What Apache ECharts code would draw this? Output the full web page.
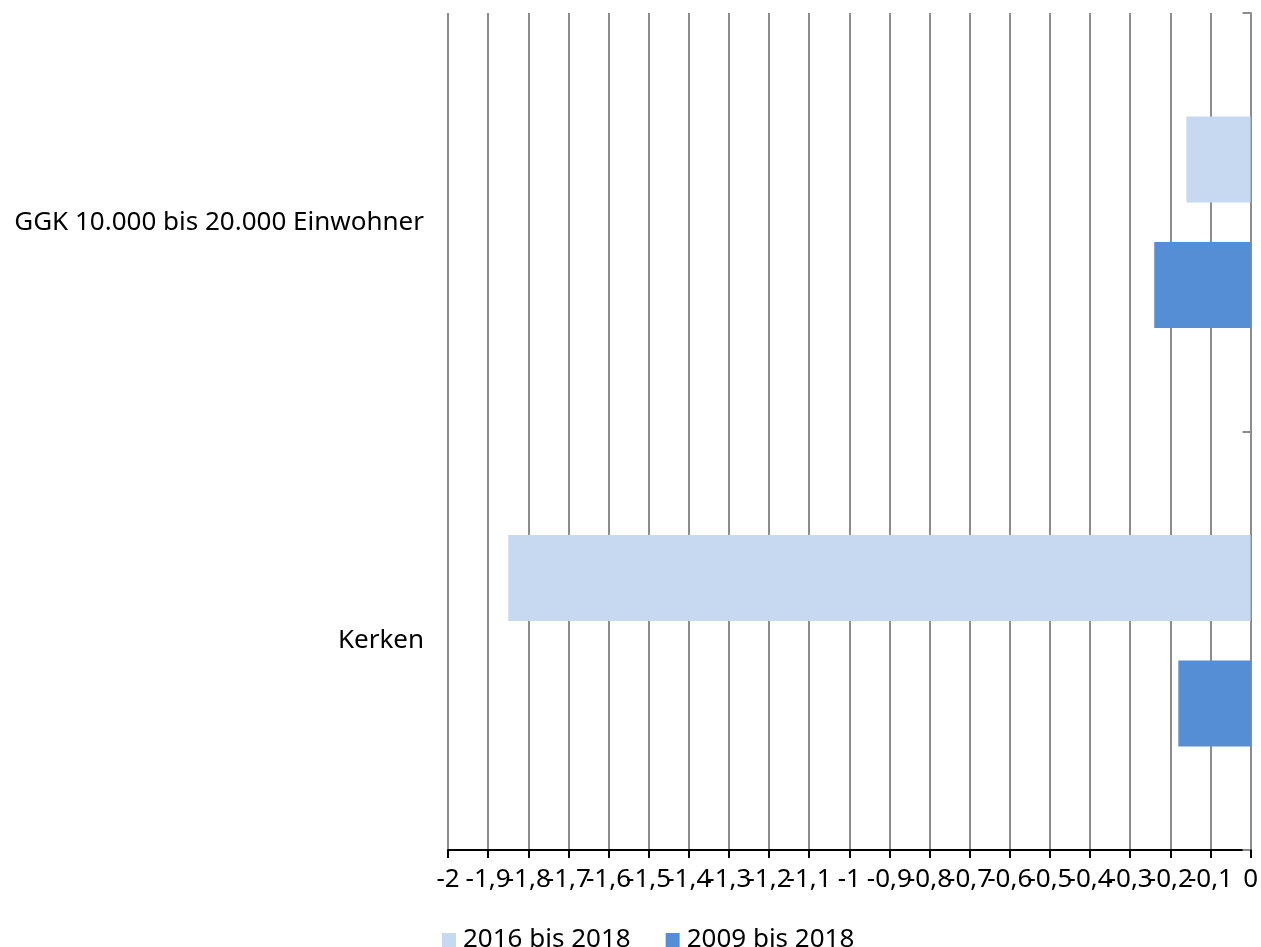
<!DOCTYPE html>
<html>
<head>
<meta charset="utf-8">
<script src="https://cdn.jsdelivr.net/npm/echarts@6/dist/echarts.min.js"></script>
<style>
html,body{margin:0;padding:0;background:#fff;}
#chart{width:1261px;height:947px;}
</style>
</head>
<body>
<div id="chart"></div>
<script>
const categories = ['GGK 10.000 bis 20.000 Einwohner', 'Kerken'];
const seriesNames = ['2016 bis 2018', '2009 bis 2018'];
const values2016 = [-0.16, -1.85];
const values2009 = [-0.24, -0.18];
const xMin = -2, xMax = 0, xInterval = 0.1;

const fontFamily = '"Noto Sans", "Open Sans", sans-serif';
const chart = echarts.init(document.getElementById('chart'));
const fmt = v => (Math.round(v * 10) / 10).toString().replace('.', ',');

chart.setOption({
  animation: false,
  textStyle: { fontFamily: fontFamily },
  grid: { left: 448, right: 10, top: 13, bottom: 97, containLabel: false },
  legend: {
    data: seriesNames,
    left: 437, top: 922,
    itemWidth: 14, itemHeight: 14, itemGap: 35,
    icon: 'rect',
    textStyle: { fontSize: 26, color: '#000', fontFamily: fontFamily, padding: [0, 0, 0, 2] }
  },
  xAxis: {
    type: 'value', min: xMin, max: xMax, interval: xInterval,
    axisLine: { show: true, lineStyle: { color: '#000', width: 2 } },
    axisTick: { show: true, length: 8, lineStyle: { color: '#000', width: 2 } },
    axisLabel: { fontSize: 26, color: '#000', margin: 17, formatter: fmt, fontFamily: fontFamily, hideOverlap: false },
    splitLine: { show: true, lineStyle: { color: '#8c8c8c', width: 2 } }
  },
  yAxis: [
    {
      type: 'category', data: categories, inverse: true, position: 'left',
      axisLine: { show: false }, axisTick: { show: false },
      axisLabel: { fontSize: 26, color: '#000', margin: 24, fontFamily: fontFamily },
      splitLine: { show: false }
    },
    {
      type: 'category', data: categories, inverse: true, position: 'right',
      axisLine: { show: true, lineStyle: { color: '#8c8c8c', width: 2 } },
      axisTick: { show: true, inside: true, length: 8, lineStyle: { color: '#8c8c8c', width: 2 } },
      axisLabel: { show: false },
      splitLine: { show: false }
    }
  ],
  series: [
    { name: seriesNames[0], type: 'bar', data: values2016, barWidth: 86, barGap: '46%',
      itemStyle: { color: '#c6d9f1' } },
    { name: seriesNames[1], type: 'bar', data: values2009, barWidth: 86, barGap: '46%',
      itemStyle: { color: '#558ed5' } }
  ]
});
</script>
</body>
</html>
